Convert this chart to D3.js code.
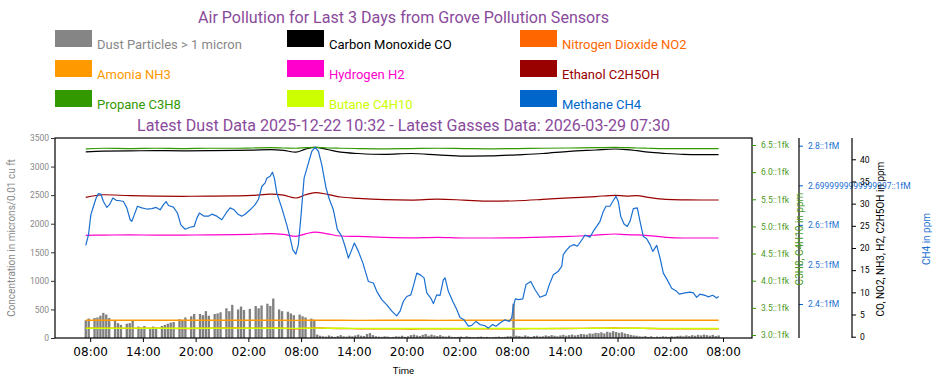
<!DOCTYPE html>
<html><head><meta charset="utf-8">
<script src="https://cdn.jsdelivr.net/npm/d3@7"></script>
<style>
html,body{margin:0;padding:0;background:#fff;}
svg{display:block;}
</style>
</head><body>
<svg id="chart" width="942" height="385"></svg>
<script>
// ---------------- DATA ----------------
const titleText = "Air Pollution for Last 3 Days from Grove Pollution Sensors";
const subtitleText = "Latest Dust Data 2025-12-22 10:32 - Latest Gasses Data: 2026-03-29 07:30";
const seriesNames = ["Dust Particles > 1 micron","Carbon Monoxide CO","Nitrogen Dioxide NO2","Amonia NH3","Hydrogen H2","Ethanol C2H5OH","Propane C3H8","Butane C4H10","Methane CH4"];
const seriesColors = ["#858585","#000000","#ff6600","#ff9900","#ff00cc","#990000","#339900","#ccff00","#0066cc"];
const xTickLabels = ["08:00","14:00","20:00","02:00","08:00","14:00","20:00","02:00","08:00","14:00","20:00","02:00","08:00"];
const leftTicks = [0,500,1000,1500,2000,2500,3000,3500];
const greenTicks = [3.0,3.5,4.0,4.5,5.0,5.5,6.0,6.5];
const greenTickLabels = ["3.0::1fk","3.5::1fk","4.0::1fk","4.5::1fk","5.0::1fk","5.5::1fk","6.0::1fk","6.5::1fk"];
const blueTicks = [2.4,2.5,2.6,2.7,2.8];
const blueTickLabels = ["2.4::1fM","2.5::1fM","2.6::1fM","2.6999999999999997::1fM","2.8::1fM"];
const blackTicks = [0,5,10,15,20,25,30,35,40];

// start of the 3-day window (UTC) ; dust sampled every 20 minutes
const startTime = Date.UTC(2026,2,26,7,30);
const dustStepMinutes = 20;
const dust = [
 310,340,null,350,360,390,440,410,350,null,300,260,230,null,250,260,300,null,200,180,
 210,null,170,200,180,null,210,230,250,270,280,null,330,320,360,null,380,420,null,420,
 400,470,390,null,420,430,450,null,520,470,580,null,500,550,490,null,510,null,560,520,
 570,null,600,560,690,null,500,470,null,460,430,400,null,410,380,360,null,340,320,60,
 40,30,25,45,30,20,35,50,30,25,40,30,45,60,40,35,70,85,50,30,
 25,20,30,25,15,20,30,25,40,20,30,50,60,45,35,55,70,40,60,45,
 35,50,30,25,40,20,15,20,25,15,30,20,15,10,20,25,15,20,10,15,
 20,25,15,20,30,30,600,40,35,25,45,30,20,35,40,25,30,45,35,50,
 40,30,45,55,40,50,60,45,55,70,65,60,80,75,90,85,100,80,110,95,
 120,105,90,100,80,70,55,45,40,30,25,35,20,30,15,25,20,30,25,20,
 30,25,35,40,30,45,35,50,40,55,45,60,50,40,55,35,45
];

// gas series, hours after start
const gasHours = [0,2,5,8,11,14,17,19,21,22.5,23.9,25,26.1,27.5,29,31,34,37,40,43,46,49,52,55,58,60.2,61.5,62.7,64,66,68,70,72];
const co    = [41.65,41.85,41.9,41.95,41.9,41.95,42.0,42.05,42.16,42.0,41.6,42.3,42.7,42.2,41.6,41.3,41.1,41.3,41.0,40.7,40.75,41.0,41.3,41.8,42.1,42.32,42.2,41.94,41.6,41.3,41.1,41.05,41.04];
const no2   = [1.9,1.92,1.88,1.9,1.85,1.9,1.95,1.9,1.95,1.9,1.8,1.9,2.0,1.9,1.85,1.8,1.78,1.75,1.8,1.78,1.76,1.8,1.82,1.85,1.9,1.95,1.9,1.9,1.85,1.8,1.8,1.8,1.8];
const nh3   = [3.70,3.70,3.71,3.70,3.70,3.70,3.71,3.70,3.71,3.70,3.69,3.70,3.72,3.70,3.70,3.69,3.70,3.70,3.69,3.70,3.70,3.70,3.70,3.70,3.71,3.71,3.70,3.70,3.70,3.70,3.70,3.70,3.70];
const h2    = [22.86,22.9,22.95,22.9,22.92,22.95,23.0,23.1,23.22,23.05,22.64,23.2,23.6,23.2,22.7,22.6,22.4,22.3,22.41,22.25,22.25,22.3,22.45,22.6,22.9,23.16,23.0,22.95,22.8,22.4,22.25,22.25,22.25];
const ethanol = [31.43,32.0,31.8,31.7,31.66,31.7,31.75,31.85,32.15,31.9,31.27,32.0,32.5,32.1,31.5,31.2,30.9,30.8,31.0,30.8,30.55,30.65,30.95,31.3,31.6,31.88,31.7,31.8,31.4,30.95,30.85,30.82,30.82];
const propane = [6.43,6.44,6.435,6.44,6.435,6.44,6.44,6.445,6.45,6.445,6.44,6.45,6.457,6.445,6.44,6.435,6.43,6.435,6.44,6.435,6.43,6.435,6.44,6.445,6.45,6.457,6.45,6.445,6.44,6.435,6.435,6.433,6.432];
const butane  = [3.125,3.124,3.126,3.125,3.123,3.125,3.126,3.124,3.125,3.124,3.122,3.125,3.127,3.125,3.123,3.122,3.121,3.12,3.121,3.12,3.119,3.12,3.121,3.122,3.124,3.126,3.125,3.124,3.123,3.122,3.121,3.121,3.121];

const ch4Hours = [0,0.31,0.58,0.88,1.18,1.44,1.72,2.01,2.40,2.70,
 3.08,3.46,3.91,4.29,4.67,5.05,5.24,5.50,5.88,6.38,
 6.95,7.52,8.01,8.46,8.84,9.14,9.41,9.97,10.43,10.82,
 11.31,11.87,12.33,12.64,12.93,13.47,13.96,14.34,14.91,15.48,
 15.97,16.42,16.88,17.37,17.75,18.13,18.70,19.27,19.64,20.03,
 20.41,20.60,20.97,21.24,21.46,21.74,22.30,22.87,23.25,23.56,
 23.90,24.19,24.50,24.84,25.33,25.72,26.09,26.47,26.85,27.34,
 27.72,28.17,28.63,29.13,29.50,29.88,30.19,30.56,31.02,31.52,
 32.15,32.72,33.11,33.68,34.25,34.82,35.38,35.76,36.14,36.52,
 36.98,37.27,37.66,38.11,38.49,38.80,39.25,39.55,39.93,40.31,
 40.68,40.88,41.25,41.75,42.21,42.58,43.04,43.53,43.92,44.40,
 44.86,45.43,45.80,46.30,46.68,47.13,47.70,48.19,48.46,48.65,
 48.87,49.22,49.72,50.09,50.63,51.12,51.68,52.37,52.74,53.20,
 53.76,54.15,54.33,54.72,55.10,55.55,55.93,56.31,56.80,57.37,
 57.75,58.13,58.51,58.88,59.19,59.64,59.95,60.32,60.59,60.86,
 61.24,61.61,61.92,62.30,62.75,63.06,63.43,63.82,64.20,64.51,
 64.96,65.34,65.71,66.16,66.66,67.23,67.53,68.17,68.74,69.12,
 69.51,69.88,70.45,70.83,71.33,71.78,72];
const ch4 = [2.548,2.575,2.626,2.647,2.668,2.679,2.678,2.659,2.644,2.651,
 2.668,2.662,2.661,2.659,2.643,2.613,2.609,2.624,2.647,2.643,
 2.640,2.641,2.644,2.638,2.651,2.659,2.649,2.645,2.630,2.600,
 2.589,2.594,2.596,2.617,2.630,2.622,2.622,2.627,2.622,2.613,
 2.630,2.643,2.638,2.626,2.622,2.627,2.638,2.651,2.664,2.697,
 2.706,2.718,2.723,2.733,2.718,2.680,2.643,2.600,2.567,2.537,
 2.526,2.550,2.626,2.718,2.756,2.786,2.796,2.786,2.752,2.693,
 2.664,2.638,2.588,2.571,2.546,2.516,2.533,2.554,2.533,2.504,
 2.457,2.453,2.432,2.411,2.398,2.382,2.370,2.382,2.407,2.419,
 2.423,2.445,2.478,2.473,2.466,2.428,2.415,2.401,2.423,2.422,
 2.461,2.466,2.432,2.407,2.386,2.366,2.360,2.344,2.346,2.356,
 2.348,2.345,2.339,2.348,2.344,2.352,2.360,2.356,2.365,2.394,
 2.413,2.411,2.413,2.449,2.457,2.436,2.417,2.423,2.449,2.474,
 2.483,2.495,2.525,2.537,2.546,2.550,2.546,2.558,2.574,2.569,
 2.584,2.596,2.609,2.634,2.647,2.647,2.659,2.672,2.659,2.622,
 2.602,2.596,2.609,2.641,2.643,2.609,2.571,2.565,2.550,2.533,
 2.548,2.516,2.478,2.461,2.440,2.432,2.425,2.428,2.430,2.428,
 2.417,2.425,2.422,2.418,2.422,2.415,2.419];

// ---------------- LAYOUT ----------------
const svg = d3.select("#chart");
const L = 55, R = 752, T = 138, B = 338;
const HOUR = 3600*1000;
const tAt = h => new Date(startTime + h*HOUR);

const x = d3.scaleUtc().domain([new Date(Date.UTC(2026,2,26,4,0)), new Date(Date.UTC(2026,2,29,11,18))]).range([L,R]);
const yLeft  = d3.scaleLinear().domain([0,3500]).range([B,T]);
const yGreen = d3.scaleLinear().domain([2.9447,6.629]).range([B,T]);
const yBlue  = d3.scaleLinear().domain([2.3141,2.8195]).range([B,T]);
const yBlack = d3.scaleLinear().domain([-0.293,44.80]).range([B,T]);

const purple = "#8a4a9c";
const sans = "Roboto, 'Liberation Sans', sans-serif";

svg.append("rect").attr("width",942).attr("height",385).attr("fill","#fff");

// titles
svg.append("text").attr("x",403.5).attr("y",23).attr("text-anchor","middle")
  .attr("font-family",sans).attr("font-size",16).attr("fill",purple)
  .attr("textLength",411).attr("lengthAdjust","spacingAndGlyphs").text(titleText);
svg.append("text").attr("x",403.5).attr("y",131).attr("text-anchor","middle")
  .attr("font-family",sans).attr("font-size",16.5).attr("fill",purple)
  .attr("textLength",533).attr("lengthAdjust","spacingAndGlyphs").text(subtitleText);

// legend
const legX = [55,287,520];
seriesNames.forEach((n,i)=>{
  const col = i%3, row = Math.floor(i/3);
  const g = svg.append("g").attr("transform",`translate(${legX[col]},${30+row*30})`);
  g.append("rect").attr("x",0).attr("y",0).attr("width",37).attr("height",17).attr("fill",seriesColors[i]);
  g.append("text").attr("x",42).attr("y",18.5).attr("font-family",sans).attr("font-size",13)
    .attr("fill", i===0 ? "#888" : seriesColors[i]).text(n);
});

// plot clip
svg.append("clipPath").attr("id","clip").append("rect").attr("x",L).attr("y",T).attr("width",R-L).attr("height",B-T);
const plot = svg.append("g").attr("clip-path","url(#clip)");

// dust bars
const stepPx = x(tAt(dustStepMinutes/60)) - x(tAt(0));
const bw = stepPx*0.8;
plot.selectAll("rect.dust").data(dust.map((v,i)=>({v,h:i*dustStepMinutes/60})).filter(d=>d.v!==null))
  .enter().append("rect").attr("class","dust")
  .attr("x",d=>x(tAt(d.h))-bw/2).attr("width",bw)
  .attr("y",d=>yLeft(d.v)).attr("height",d=>yLeft(0)-yLeft(d.v))
  .attr("fill","#808080");

function drawLine(hours, vals, y, color, w){
  const line = d3.line().x((d,i)=>x(tAt(hours[i]))).y(d=>y(d)).curve(d3.curveMonotoneX);
  plot.append("path").datum(vals).attr("d",line).attr("fill","none")
    .attr("stroke",color).attr("stroke-width",w||1.2).attr("stroke-linejoin","round");
}
drawLine(gasHours, co, yBlack, "#000000");
drawLine(gasHours, no2, yBlack, "#ff6600", 1.4);
drawLine(gasHours, nh3, yBlack, "#ff9900", 1.4);
drawLine(gasHours, h2, yBlack, "#ff00cc");
drawLine(gasHours, ethanol, yBlack, "#990000");
drawLine(gasHours, propane, yGreen, "#339900");
drawLine(gasHours, butane, yGreen, "#ccff00", 1.4);
const ch4Line = d3.line().x((d,i)=>x(tAt(ch4Hours[i]))).y(d=>yBlue(d)).curve(d3.curveLinear);
plot.append("path").datum(ch4).attr("d",ch4Line).attr("fill","none").attr("stroke","#1a6fd1").attr("stroke-width",1.2).attr("stroke-linejoin","round");

// frame
svg.append("rect").attr("x",L).attr("y",T).attr("width",R-L).attr("height",B-T)
  .attr("fill","none").attr("stroke","#000").attr("stroke-width",1.2);

function styleAxis(g, tickColor, textColor, fontSize, family){
  g.select(".domain").remove();
  g.selectAll(".tick line").attr("stroke",tickColor).attr("stroke-width",1);
  g.selectAll(".tick text").attr("fill",textColor).attr("font-size",fontSize).attr("font-family",family||sans);
}

// left axis
const gL = svg.append("g").attr("transform",`translate(${L},0)`)
  .call(d3.axisLeft(yLeft).tickValues(leftTicks).tickFormat(d3.format("d")).tickSize(4).tickPadding(2));
styleAxis(gL,"#333","#888",8.5);
svg.append("text").attr("transform",`translate(15,${(T+B)/2}) rotate(-90)`).attr("text-anchor","middle")
  .attr("font-family",sans).attr("font-size",10).attr("fill","#888").text("Concentration in microns/0.01 cu ft");

// bottom axis
const xTicks = d3.utcHour.range(new Date(Date.UTC(2026,2,26,8)), new Date(Date.UTC(2026,2,29,8,1)), 6);
const gB = svg.append("g").attr("transform",`translate(0,${B})`)
  .call(d3.axisBottom(x).tickValues(xTicks).tickFormat((d,i)=>xTickLabels[i]).tickSize(4).tickPadding(5));
styleAxis(gB,"#000","#000",12,"'DejaVu Sans', sans-serif");
svg.append("text").attr("x",403.5).attr("y",374).attr("text-anchor","middle")
  .attr("font-family",sans).attr("font-size",9.5).attr("fill","#000").text("Time");

// green axis (right of frame)
const gG = svg.append("g").attr("transform",`translate(${R},0)`)
  .call(d3.axisRight(yGreen).tickValues(greenTicks).tickFormat((d,i)=>greenTickLabels[i]).tickSize(4).tickPadding(5));
styleAxis(gG,"#339900","#4a9a22",8.5);

// blue axis
const BX = 799;
const gC = svg.append("g").attr("transform",`translate(${BX},0)`)
  .call(d3.axisRight(yBlue).tickValues(blueTicks).tickFormat((d,i)=>blueTickLabels[i]).tickSize(4).tickPadding(5));
styleAxis(gC,"#0066cc","#1a6fd1",8.5);
svg.append("line").attr("x1",BX).attr("x2",BX).attr("y1",T).attr("y2",B).attr("stroke","#000").attr("stroke-width",1.2);

// black axis
const KX = 852;
const gK = svg.append("g").attr("transform",`translate(${KX},0)`)
  .call(d3.axisRight(yBlack).tickValues(blackTicks).tickSize(4).tickPadding(4));
styleAxis(gK,"#000","#000",8.5);
svg.append("line").attr("x1",KX).attr("x2",KX).attr("y1",T).attr("y2",B).attr("stroke","#000").attr("stroke-width",1.2);

// axis titles (right side)
svg.append("text").attr("transform",`translate(803,${(T+B)/2+1}) rotate(-90)`).attr("text-anchor","middle")
  .attr("font-family",sans).attr("font-size",10).attr("fill","#4a9a22").text("C3H8, C4H10 in ppm");
svg.append("text").attr("transform",`translate(884,${(T+B)/2+1}) rotate(-90)`).attr("text-anchor","middle")
  .attr("font-family",sans).attr("font-size",10).attr("fill","#000").text("CO, NO2, NH3, H2, C2H5OH in ppm");
svg.append("text").attr("transform",`translate(930,${(T+B)/2+1}) rotate(-90)`).attr("text-anchor","middle")
  .attr("font-family",sans).attr("font-size",10).attr("fill","#1a6fd1").text("CH4 in ppm");
</script>
</body></html>
